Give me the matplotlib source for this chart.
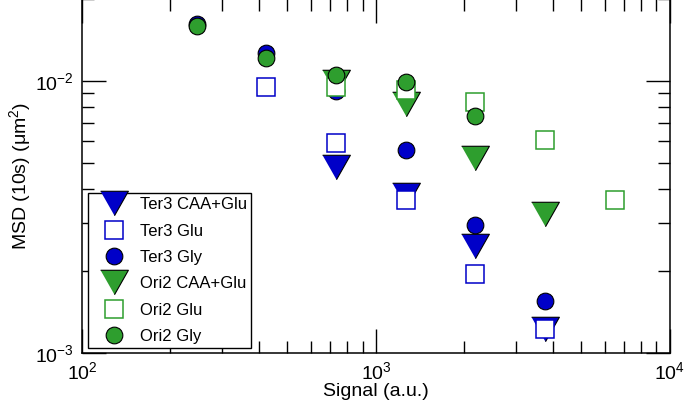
import matplotlib
matplotlib.use("Agg")
import matplotlib.pyplot as plt
from matplotlib.ticker import LogLocator, NullFormatter

plt.rcParams['font.family'] = ['Liberation Sans', 'DejaVu Sans']
plt.rcParams['mathtext.fontset'] = 'custom'
plt.rcParams['mathtext.rm'] = 'Liberation Sans'
plt.rcParams['mathtext.it'] = 'Liberation Sans:italic'
plt.rcParams['mathtext.bf'] = 'Liberation Sans:bold'

# signal (a.u.) and MSD (um^2) per series
ter3_caa_x = [729, 1262, 2173, 3758]
ter3_caa_y = [0.00484, 0.00380, 0.00247, 0.00123]
ter3_glu_x = [422, 729, 1262, 2173, 3758]
ter3_glu_y = [0.0095, 0.00593, 0.00365, 0.00195, 0.00123]
ter3_gly_x = [246, 422, 729, 1262, 2173, 3758]
ter3_gly_y = [0.0162, 0.01267, 0.0092, 0.00555, 0.00294, 0.00155]
ori2_caa_x = [729, 1262, 2173, 3758]
ori2_caa_y = [0.0099, 0.00820, 0.00520, 0.00324]
ori2_glu_x = [729, 1262, 2173, 3758, 6490]
ori2_glu_y = [0.0095, 0.00927, 0.00832, 0.00604, 0.00365]
ori2_gly_x = [246, 422, 729, 1262, 2173]
ori2_gly_y = [0.01592, 0.01215, 0.0105, 0.00989, 0.00743]

blue = '#0000c8'
green = '#2e9e2e'
tri = [(-1, 0.88), (1, 0.88), (0, -0.88)]

fig = plt.figure(figsize=(6.85, 4.12), dpi=100)
ax = fig.add_axes([0.1197, 0.1432, 0.8583, 0.8598])

ax.plot(ter3_caa_x, ter3_caa_y, ls='none', marker=tri, ms=20, mfc=blue, mec='black', mew=0.8, label='Ter3 CAA+Glu')
ax.plot(ter3_glu_x, ter3_glu_y, ls='none', marker='s', ms=12.5, mfc='white', mec=blue, mew=1.1, label='Ter3 Glu')
ax.plot(ter3_gly_x, ter3_gly_y, ls='none', marker='o', ms=12, mfc=blue, mec='black', mew=0.8, label='Ter3 Gly')
ax.plot(ori2_caa_x, ori2_caa_y, ls='none', marker=tri, ms=20, mfc=green, mec='black', mew=0.8, label='Ori2 CAA+Glu')
ax.plot(ori2_glu_x, ori2_glu_y, ls='none', marker='s', ms=12.5, mfc='white', mec=green, mew=1.1, label='Ori2 Glu')
ax.plot(ori2_gly_x, ori2_gly_y, ls='none', marker='o', ms=12, mfc=green, mec='black', mew=0.8, label='Ori2 Gly')

ax.set_xscale('log')
ax.set_yscale('log')
ax.set_xlim(1e2, 1e4)
ax.set_ylim(1e-3, 0.02)
ax.xaxis.set_minor_locator(LogLocator(base=10, subs=range(2, 10)))
ax.yaxis.set_minor_locator(LogLocator(base=10, subs=range(2, 10)))
ax.xaxis.set_minor_formatter(NullFormatter())
ax.yaxis.set_minor_formatter(NullFormatter())

ax.tick_params(which='both', direction='in', top=True, right=True, width=1.0, labelsize=14)
ax.tick_params(which='major', length=17, pad=6)
ax.tick_params(which='minor', length=8.6)
for s in ax.spines.values():
    s.set_linewidth(1.1)

ax.set_xlabel('Signal (a.u.)', fontsize=14, labelpad=0)
ax.set_ylabel('MSD (10s) (μm$^2$)', fontsize=14, labelpad=1)

leg = ax.legend(loc='lower left', bbox_to_anchor=(0.010, 0.014), borderaxespad=0,
                fontsize=12, fancybox=False, edgecolor='black', framealpha=1,
                labelspacing=0.68, handletextpad=0.25, borderpad=0.25,
                handlelength=2.6, numpoints=1)
leg.get_frame().set_linewidth(1.0)

fig.savefig('out.png', dpi=100)
